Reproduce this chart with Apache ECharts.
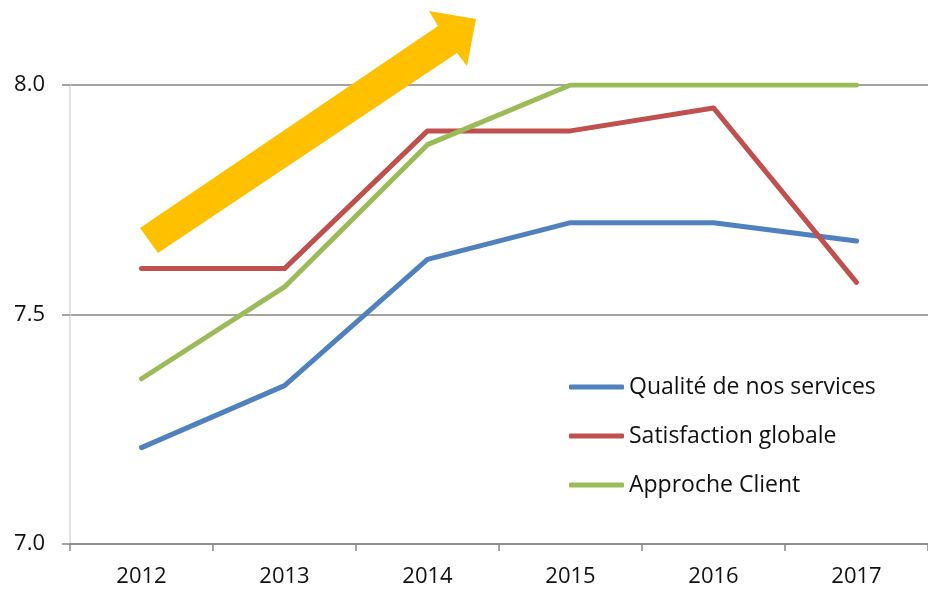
<!DOCTYPE html>
<html>
<head>
    <meta charset="utf-8">
    <title>Évolution des indicateurs</title>
    <script src="https://cdn.jsdelivr.net/npm/echarts@6/dist/echarts.min.js"></script>
    <style>
        html, body { margin: 0; padding: 0; background: #fff; }
        #chartmain { width: 928px; height: 592px; }
    </style>
</head>
<body>
<div id="chartmain"></div>
<script>
    // données
    var annees = ['2012', '2013', '2014', '2015', '2016', '2017'];
    var qualite = [7.21, 7.345, 7.62, 7.70, 7.70, 7.66];
    var satisfaction = [7.60, 7.60, 7.90, 7.90, 7.95, 7.57];
    var approche = [7.36, 7.56, 7.87, 8.0, 8.0, 8.0];
    var nomsSeries = ['Qualité de nos services', 'Satisfaction globale', 'Approche Client'];
    var couleurs = ['#4F81BD', '#C0504D', '#9BBB59'];

    var police = "'Open Sans', 'Liberation Sans', sans-serif";

    function serie(nom, data, couleur) {
        return {
            name: nom,
            type: 'line',
            data: data,
            symbol: 'none',
            z: 3,
            lineStyle: {width: 5, color: couleur, cap: 'round', join: 'round'},
            itemStyle: {color: couleur}
        };
    }

    var option = {
        animation: false,
        textStyle: {fontFamily: police},
        grid: {left: 70, top: 85, width: 860, bottom: 48},
        legend: {
            orient: 'vertical',
            left: 564,
            top: 367,
            icon: 'roundRect',
            itemWidth: 55,
            itemHeight: 5,
            itemGap: 19,
            data: nomsSeries,
            textStyle: {fontSize: 23, color: '#111', lineHeight: 30}
        },
        xAxis: {
            type: 'category',
            data: annees,
            boundaryGap: true,
            axisLine: {lineStyle: {color: '#868686', width: 1.5}},
            axisTick: {show: true, length: 7, lineStyle: {color: '#868686', width: 1.5}},
            axisLabel: {fontSize: 22, color: '#111', margin: 22, fontFamily: police}
        },
        yAxis: {
            type: 'value',
            min: 7,
            max: 8,
            interval: 0.5,
            axisLine: {show: true, lineStyle: {color: '#d9d9d9', width: 1.5}},
            axisTick: {show: true, length: 8, lineStyle: {color: '#868686', width: 1.5}},
            splitLine: {lineStyle: {color: '#868686', width: 1.5}},
            axisLabel: {
                fontSize: 22, color: '#111', margin: 25, fontFamily: police,
                formatter: function (v) { return v.toFixed(1); }
            }
        },
        graphic: [{
            type: 'polygon',
            z: 10,
            shape: {
                points: [[140, 228], [438, 26], [429, 11], [476, 19], [467, 66], [457, 53], [158, 253]]
            },
            style: {fill: '#FFC000'}
        }],
        series: [
            serie(nomsSeries[0], qualite, couleurs[0]),
            serie(nomsSeries[1], satisfaction, couleurs[1]),
            serie(nomsSeries[2], approche, couleurs[2])
        ]
    };

    var myChart = echarts.init(document.getElementById('chartmain'));
    myChart.setOption(option);
</script>
</body>
</html>
